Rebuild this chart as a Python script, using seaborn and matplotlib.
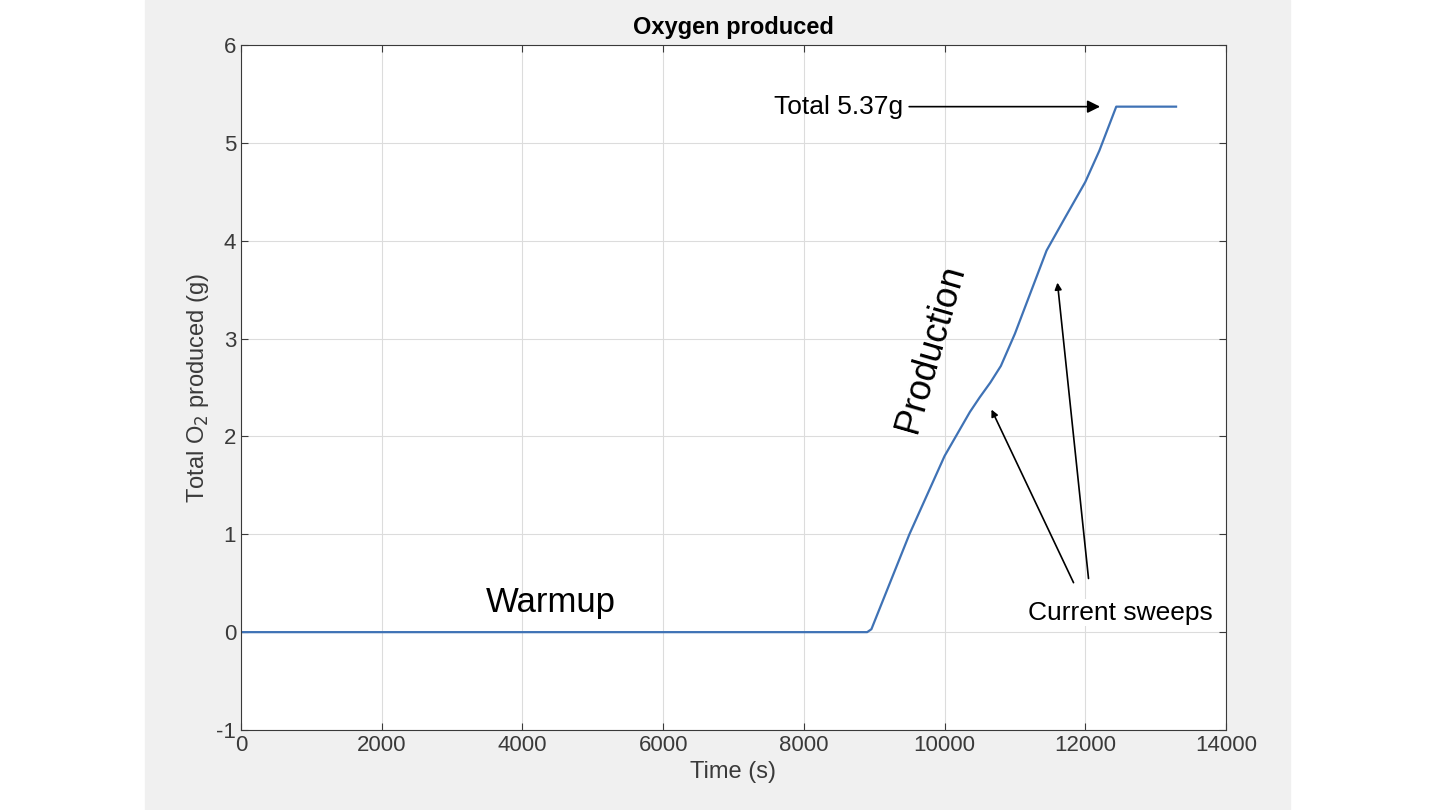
import matplotlib
matplotlib.use("Agg")
import matplotlib.pyplot as plt
from matplotlib.patches import Rectangle
import seaborn as sns
import pandas as pd

# Time (s) and cumulative oxygen (g)
time_s = [0, 2000, 4000, 6000, 8000, 8900, 8960, 9500, 10000, 10200, 10360,
          10500, 10650, 10800, 11000, 11450, 11700, 12000, 12200, 12440, 12500, 13290]
o2_g = [0, 0, 0, 0, 0, 0, 0.03, 1.0, 1.8, 2.05, 2.25,
        2.4, 2.55, 2.72, 3.05, 3.9, 4.22, 4.6, 4.92, 5.37, 5.37, 5.37]

x_ticks = [0, 2000, 4000, 6000, 8000, 10000, 12000, 14000]
y_ticks = [-1, 0, 1, 2, 3, 4, 5, 6]

df = pd.DataFrame({"time": time_s, "o2": o2_g})

plt.rcParams["font.family"] = "Liberation Sans"
plt.rcParams["axes.unicode_minus"] = False
fig = plt.figure(figsize=(14.4, 8.1), dpi=100)
fig.patches.append(Rectangle((145 / 1440, 0), (1290 - 145) / 1440, 1,
                             transform=fig.transFigure, color="#f0f0f0", zorder=-10))
ax = fig.add_axes([241 / 1440, 1 - 730 / 810, (1226 - 241) / 1440, (730 - 45) / 810])

sns.lineplot(data=df, x="time", y="o2", ax=ax, color="#3f72b5", linewidth=1.6)

ax.set_xlim(0, 14000)
ax.set_ylim(-1, 6)
ax.set_xticks(x_ticks)
ax.set_yticks(y_ticks)
ax.grid(True, color="#dcdcdc", linewidth=0.8)
ax.tick_params(labelsize=16, colors="#3a3a3a", direction="in", length=5)
for s in ax.spines.values():
    s.set_color("#3a3a3a")
    s.set_linewidth(0.8)
ax.tick_params(top=True, right=True)
ax.set_xlabel("Time (s)", fontsize=17, color="#3a3a3a")
ax.set_ylabel("Total O$_2$ produced (g)", fontsize=17, color="#3a3a3a")
ax.set_title("Oxygen produced", fontsize=17, fontweight="bold", pad=8)

ax.text(4400, 0.3, "Warmup", fontsize=25, ha="center", va="center")
ax.text(9800, 2.9, "Production", fontsize=26, ha="center", va="center", rotation=74)
ax.annotate("Total 5.37g", xy=(12250, 5.37), xytext=(8500, 5.37), fontsize=19,
            ha="center", va="center",
            arrowprops=dict(arrowstyle="-|>", color="black", lw=1.2))
ax.text(12500, 0.2, "Current sweeps", fontsize=19, ha="center", va="center",
        bbox=dict(facecolor="white", edgecolor="none", pad=1))
ax.annotate("", xy=(10650, 2.3), xytext=(11850, 0.48),
            arrowprops=dict(arrowstyle="-|>", color="black", lw=1.2))
ax.annotate("", xy=(11600, 3.6), xytext=(12050, 0.52),
            arrowprops=dict(arrowstyle="-|>", color="black", lw=1.2))

fig.savefig("out.png", dpi=100)
